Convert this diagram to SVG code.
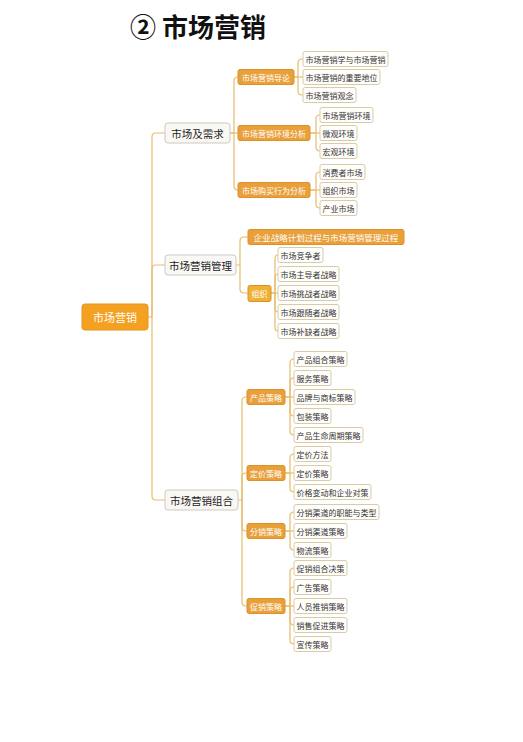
<svg xmlns="http://www.w3.org/2000/svg" width="523" height="742" viewBox="0 0 523 742">
<style>
text{font-family:"Noto Sans CJK SC","Noto Sans",sans-serif;dominant-baseline:central}
.title{font-size:26px;font-weight:bold;fill:#111;text-anchor:middle}
.root rect{fill:#F4A020;stroke:#E89418;stroke-width:1}
.root text{font-size:11px;fill:#fff;text-anchor:middle}
.l1 rect{fill:#FAF8F5;stroke:#CFC8BE;stroke-width:1}
.l1 text{font-size:10.5px;fill:#222;text-anchor:middle}
.l2 rect{fill:#E9A03B;stroke:#DC9129;stroke-width:1}
.l2 text{font-size:8px;fill:#fff;text-anchor:middle}
.lf rect{fill:#FFFEFB;stroke:#D8CBAA;stroke-width:1}
.lf text{font-size:8px;fill:#333;text-anchor:middle}
.conn path{fill:none;stroke:#E7BC6C;stroke-width:1.2}
</style>
<rect width="523" height="742" fill="#fff"/>
<text class="title" x="198" y="25">② 市场营销</text>
<g class="conn">
<path d="M148,317 H152"/>
<path d="M152,317 V137 Q152,133 156,133 H165"/>
<path d="M152,317 V269 Q152,265 156,265 H165"/>
<path d="M152,317 V496 Q152,500 156,500 H165"/>
<path d="M230,133 H234 V81 Q234,77 238,77"/>
<path d="M230,133 H238"/>
<path d="M234,133 V186 Q234,190 238,190"/>
<path d="M294,77 H298 V63 Q298,59 302,59 H303"/>
<path d="M294,77 H303"/>
<path d="M298,77 V91 Q298,95 302,95 H303"/>
<path d="M310,133 H316 V119 Q316,115 320,115"/>
<path d="M310,133 H320"/>
<path d="M316,133 V147 Q316,151 320,151"/>
<path d="M310,190 H316 V176 Q316,172 320,172"/>
<path d="M310,190 H320"/>
<path d="M316,190 V204 Q316,208 320,208"/>
<path d="M236,265 H240 V241 Q240,237 244,237 H248"/>
<path d="M240,265 V289 Q240,293 244,293 H248"/>
<path d="M271,293 H275 V259 Q275,255 278,255"/>
<path d="M275,293 V278 Q275,274 278,274"/>
<path d="M271,293 H278"/>
<path d="M275,293 V308 Q275,312 278,312"/>
<path d="M275,293 V327 Q275,331 278,331"/>
<path d="M238,500 H242 V401 Q242,397 246,397 H247"/>
<path d="M242,500 V477 Q242,473 246,473 H247"/>
<path d="M242,500 V527 Q242,531 246,531 H247"/>
<path d="M242,500 V602 Q242,606 246,606 H247"/>
<path d="M285,397 H290 V363 Q290,359 294,359"/>
<path d="M290,397 V382 Q290,378 294,378"/>
<path d="M285,397 H294"/>
<path d="M290,397 V412 Q290,416 294,416"/>
<path d="M290,397 V431 Q290,435 294,435"/>
<path d="M285,473 H290 V458 Q290,454 294,454"/>
<path d="M285,473 H294"/>
<path d="M290,473 V488 Q290,492 294,492"/>
<path d="M285,531 H290 V516 Q290,512 294,512"/>
<path d="M285,531 H294"/>
<path d="M290,531 V546 Q290,550 294,550"/>
<path d="M285,606 H290 V572 Q290,568 294,568"/>
<path d="M290,606 V591 Q290,587 294,587"/>
<path d="M285,606 H294"/>
<path d="M290,606 V621 Q290,625 294,625"/>
<path d="M290,606 V640 Q290,644 294,644"/>
</g>

<g id="root" class="root"><rect x="82" y="304" width="66" height="26" rx="3"/><text x="115" y="317">市场营销</text></g>

<g id="n1" class="l1"><rect x="165" y="123" width="65" height="20" rx="3"/><text x="197.5" y="133">市场及需求</text></g>
<g id="n2" class="l1"><rect x="165" y="255" width="71" height="20" rx="3"/><text x="200.5" y="265">市场营销管理</text></g>
<g id="n3" class="l1"><rect x="165" y="490" width="73" height="20" rx="3"/><text x="201.5" y="500">市场营销组合</text></g>

<g id="n1a" class="l2"><rect x="238" y="69.5" width="56" height="15" rx="2"/><text x="266" y="77">市场营销导论</text></g>
<g id="n1b" class="l2"><rect x="238" y="125.5" width="72" height="15" rx="2"/><text x="274" y="133">市场营销环境分析</text></g>
<g id="n1c" class="l2"><rect x="238" y="182.5" width="72" height="15" rx="2"/><text x="274" y="190">市场购买行为分析</text></g>

<g id="n1a1" class="lf"><rect x="303" y="51.5" width="85" height="15" rx="2"/><text x="345.5" y="59">市场营销学与市场营销</text></g>
<g id="n1a2" class="lf"><rect x="303" y="69.5" width="77" height="15" rx="2"/><text x="341.5" y="77">市场营销的重要地位</text></g>
<g id="n1a3" class="lf"><rect x="303" y="87.5" width="53" height="15" rx="2"/><text x="329.5" y="95">市场营销观念</text></g>

<g id="n1b1" class="lf"><rect x="320" y="107.5" width="53" height="15" rx="2"/><text x="346.5" y="115">市场营销环境</text></g>
<g id="n1b2" class="lf"><rect x="320" y="125.5" width="37" height="15" rx="2"/><text x="338.5" y="133">微观环境</text></g>
<g id="n1b3" class="lf"><rect x="320" y="143.5" width="37" height="15" rx="2"/><text x="338.5" y="151">宏观环境</text></g>

<g id="n1c1" class="lf"><rect x="320" y="164.5" width="45" height="15" rx="2"/><text x="342.5" y="172">消费者市场</text></g>
<g id="n1c2" class="lf"><rect x="320" y="182.5" width="37" height="15" rx="2"/><text x="338.5" y="190">组织市场</text></g>
<g id="n1c3" class="lf"><rect x="320" y="200.5" width="37" height="15" rx="2"/><text x="338.5" y="208">产业市场</text></g>

<g id="n2a" class="l2"><rect x="248" y="229.5" width="156" height="15" rx="2"/><text x="326" y="237" style="font-size:8.5px">企业战略计划过程与市场营销管理过程</text></g>
<g id="n2b" class="l2"><rect x="248" y="285.5" width="23" height="16" rx="2" style="fill:#EEB035"/><text x="259.5" y="293">组织</text></g>

<g id="n2b1" class="lf"><rect x="278" y="247.5" width="45" height="15" rx="2"/><text x="300.5" y="255">市场竞争者</text></g>
<g id="n2b2" class="lf"><rect x="278" y="266.5" width="61" height="15" rx="2"/><text x="308.5" y="274">市场主导者战略</text></g>
<g id="n2b3" class="lf"><rect x="278" y="285.5" width="61" height="15" rx="2"/><text x="308.5" y="293">市场挑战者战略</text></g>
<g id="n2b4" class="lf"><rect x="278" y="304.5" width="61" height="15" rx="2"/><text x="308.5" y="312">市场跟随者战略</text></g>
<g id="n2b5" class="lf"><rect x="278" y="323.5" width="61" height="15" rx="2"/><text x="308.5" y="331">市场补缺者战略</text></g>

<g id="n3a" class="l2"><rect x="247" y="389.5" width="38" height="15" rx="2"/><text x="266" y="397">产品策略</text></g>
<g id="n3b" class="l2"><rect x="247" y="465.5" width="38" height="15" rx="2"/><text x="266" y="473">定价策略</text></g>
<g id="n3c" class="l2"><rect x="247" y="523.5" width="38" height="15" rx="2"/><text x="266" y="531">分销策略</text></g>
<g id="n3d" class="l2"><rect x="247" y="598.5" width="38" height="15" rx="2"/><text x="266" y="606">促销策略</text></g>

<g id="n3a1" class="lf"><rect x="294" y="351.5" width="53" height="15" rx="2"/><text x="320.5" y="359">产品组合策略</text></g>
<g id="n3a2" class="lf"><rect x="294" y="370.5" width="37" height="15" rx="2"/><text x="312.5" y="378">服务策略</text></g>
<g id="n3a3" class="lf"><rect x="294" y="389.5" width="61" height="15" rx="2"/><text x="324.5" y="397">品牌与商标策略</text></g>
<g id="n3a4" class="lf"><rect x="294" y="408.5" width="37" height="15" rx="2"/><text x="312.5" y="416">包装策略</text></g>
<g id="n3a5" class="lf"><rect x="294" y="427.5" width="69" height="15" rx="2"/><text x="328.5" y="435">产品生命周期策略</text></g>

<g id="n3b1" class="lf"><rect x="294" y="446.5" width="37" height="15" rx="2"/><text x="312.5" y="454">定价方法</text></g>
<g id="n3b2" class="lf"><rect x="294" y="465.5" width="37" height="15" rx="2"/><text x="312.5" y="473">定价策略</text></g>
<g id="n3b3" class="lf"><rect x="294" y="484.5" width="77" height="15" rx="2"/><text x="332.5" y="492">价格变动和企业对策</text></g>

<g id="n3c1" class="lf"><rect x="294" y="504.5" width="85" height="15" rx="2"/><text x="336.5" y="512">分销渠道的职能与类型</text></g>
<g id="n3c2" class="lf"><rect x="294" y="523.5" width="53" height="15" rx="2"/><text x="320.5" y="531">分销渠道策略</text></g>
<g id="n3c3" class="lf"><rect x="294" y="542.5" width="37" height="15" rx="2"/><text x="312.5" y="550">物流策略</text></g>

<g id="n3d1" class="lf"><rect x="294" y="560.5" width="53" height="15" rx="2"/><text x="320.5" y="568">促销组合决策</text></g>
<g id="n3d2" class="lf"><rect x="294" y="579.5" width="37" height="15" rx="2"/><text x="312.5" y="587">广告策略</text></g>
<g id="n3d3" class="lf"><rect x="294" y="598.5" width="53" height="15" rx="2"/><text x="320.5" y="606">人员推销策略</text></g>
<g id="n3d4" class="lf"><rect x="294" y="617.5" width="53" height="15" rx="2"/><text x="320.5" y="625">销售促进策略</text></g>
<g id="n3d5" class="lf"><rect x="294" y="636.5" width="37" height="15" rx="2"/><text x="312.5" y="644">宣传策略</text></g>
</svg>
